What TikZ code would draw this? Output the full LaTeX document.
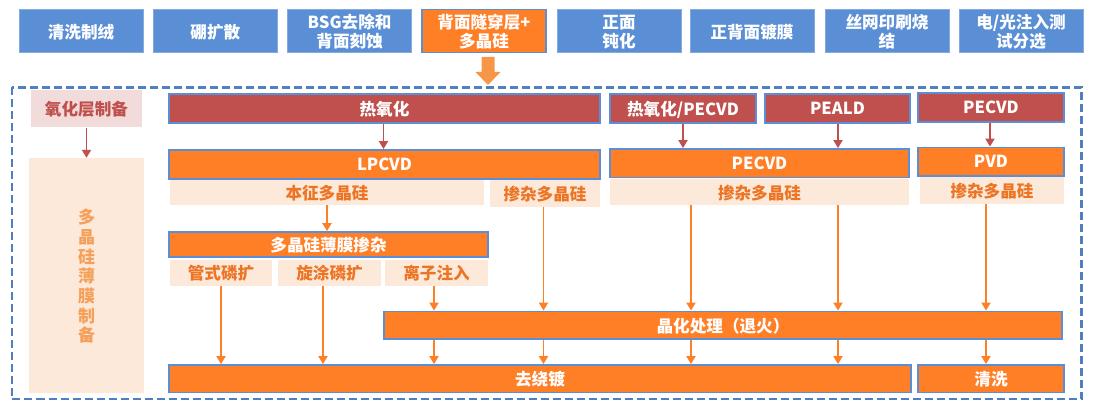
\documentclass[tikz,border=0pt]{standalone}
\usepackage{fontspec}
\setmainfont{Noto Sans CJK SC}
\usetikzlibrary{arrows.meta}
\definecolor{topblue}{HTML}{5A8FD5}
\definecolor{bordblue}{HTML}{5B8ED6}
\definecolor{dashblue}{HTML}{4F7FC0}
\definecolor{ored}{HTML}{C0504D}
\definecolor{oorange}{HTML}{FF7F27}
\definecolor{peach}{HTML}{FDE9D9}
\definecolor{pink}{HTML}{F2DCDB}
\definecolor{otext}{HTML}{EC7425}
\definecolor{vtext}{HTML}{F4A05A}
\definecolor{barrow}{HTML}{F79646}
\tikzset{
  lbl/.style={font=\bfseries\fontsize{16.6}{19}\selectfont, align=center, inner sep=0pt, text depth=0pt},
  topbox/.style={lbl, fill=topblue, draw=topblue!75!white, line width=0.8pt, text=white, minimum width=124pt, minimum height=43pt},
  topor/.style={topbox, fill=oorange, draw=bordblue, line width=1.2pt},
  redbox/.style={lbl, fill=ored, draw=bordblue, line width=1.8pt, text=white},
  orbox/.style={lbl, fill=oorange, draw=bordblue, line width=1.8pt, text=white},
  lightbox/.style={lbl, fill=peach, text=otext},
  pinkbox/.style={lbl, fill=pink, text=ored},
  redarr/.style={draw=ored, line width=1.9pt, -{Triangle[length=8pt,width=9pt]}},
  orarr/.style={draw=oorange, line width=1.9pt, -{Triangle[length=8pt,width=9pt]}},
}
\newcommand{\boxat}[6]{% style, name, x1,y1,x2,y2 + text follows
  \node[#1, minimum width=#5pt-#3pt, minimum height=#6pt-#4pt] (#2) at ({(#3+#5)/2},{(#4+#6)/2})}
\begin{document}
\begin{tikzpicture}[x=1pt,y=-1pt]
\useasboundingbox (0,0) rectangle (1093,401);
% top row
\node[topbox] (t1) at (81,31) {清洗制绒};
\node[topbox] (t2) at (215.3,31) {硼扩散};
\node[topbox] (t3) at (349.6,31) {BSG去除和\\背面刻蚀};
\node[topor]  (t4) at (484,31) {背面隧穿层+\\多晶硅};
\node[topbox] (t5) at (619,31) {正面\\钝化};
\node[topbox] (t6) at (752,31) {正背面镀膜};
\node[topbox] (t7) at (887,31) {丝网印刷烧\\结};
\node[topbox] (t8) at (1021,31) {电/光注入测\\试分选};
% block arrow
\fill[barrow] (481.5,57) -- (494.5,57) -- (494.5,72) -- (500.5,72) -- (488,85) -- (475.5,72) -- (481.5,72) -- cycle;
% dashed frame
\draw[dashblue, line width=2.2pt, dash pattern=on 8pt off 4pt] (12,87.5) rectangle (1081.5,399);
% left column
\boxat{pinkbox}{ox}{31}{90}{142}{127.5} {氧化层制备};
\boxat{lightbox}{pf}{29}{158}{144}{393} {};
\node[lbl, text=vtext, font=\bfseries\fontsize{17}{19.7}\selectfont] (pft) at (pf.center) {多\\晶\\硅\\薄\\膜\\制\\备};
\draw[redarr] (ox.south) -- (pf.north);
% red row
\boxat{redbox}{r1}{169}{94}{600}{123} {热氧化};
\boxat{redbox}{r2}{610}{94}{756}{123} {热氧化/PECVD};
\boxat{redbox}{r3}{765}{94}{910}{123} {PEALD};
\boxat{redbox}{r4}{918}{93}{1064}{122} {PECVD};
% orange row
\boxat{orbox}{lp}{169}{150}{600}{179} {LPCVD};
\boxat{orbox}{pe}{610}{149}{909}{177.5} {PECVD};
\boxat{orbox}{pv}{918}{147.5}{1064}{176} {PVD};
% light row
\boxat{lightbox}{bz}{170}{180.5}{484}{205} {本征多晶硅};
\boxat{lightbox}{d1}{490}{180.5}{600}{207} {掺杂多晶硅};
\boxat{lightbox}{d2}{610}{179}{909}{205} {掺杂多晶硅};
\boxat{lightbox}{d3}{920}{177.5}{1064}{204} {掺杂多晶硅};
% doping
\boxat{orbox}{dp}{169}{232}{488}{257} {多晶硅薄膜掺杂};
\boxat{lightbox}{g1}{170}{260}{272}{285.5} {管式磷扩};
\boxat{lightbox}{g2}{278}{260}{381}{285.5} {旋涂磷扩};
\boxat{lightbox}{g3}{385}{260}{488}{285.5} {离子注入};
% anneal, etch
\boxat{orbox}{an}{384}{311.5}{1062}{339} {晶化处理（退火）};
\boxat{orbox}{qr}{169}{365}{911}{392.5} {去绕镀};
\boxat{orbox}{qx}{918}{365}{1064}{392.5} {清洗};
% columns
\coordinate (xa) at (383.5,0);
\coordinate (xb) at (683,0);
\coordinate (xc) at (838,0);
\coordinate (xd) at (990,0);
\coordinate (xe) at (327,0);
\coordinate (xf) at (221,0);
\coordinate (xg) at (323,0);
\coordinate (xh) at (434,0);
\coordinate (xi) at (543.5,0);
\coordinate (xj) at (691,0);
\coordinate (xk) at (986,0);
% red arrows
\draw[redarr] (r1.south -| xa) -- (lp.north -| xa);
\draw[redarr] (r2.south -| xb) -- (pe.north -| xb);
\draw[redarr] (r3.south -| xc) -- (pe.north -| xc);
\draw[redarr] (r4.south -| xd) -- (pv.north -| xd);
% orange arrows
\draw[orarr] (bz.south -| xe) -- (dp.north -| xe);
\draw[orarr] (g1.south -| xf) -- (qr.north -| xf);
\draw[orarr] (g2.south -| xg) -- (qr.north -| xg);
\draw[orarr] (g3.south -| xh) -- (an.north -| xh);
\draw[orarr] (d1.south -| xi) -- (an.north -| xi);
\draw[orarr] (d2.south -| xj) -- (an.north -| xj);
\draw[orarr] (d2.south -| xc) -- (an.north -| xc);
\draw[orarr] (d3.south -| xk) -- (an.north -| xk);
\draw[orarr] (an.south -| xh) -- (qr.north -| xh);
\draw[orarr] (an.south -| xi) -- (qr.north -| xi);
\draw[orarr] (an.south -| xj) -- (qr.north -| xj);
\draw[orarr] (an.south -| xc) -- (qr.north -| xc);
\draw[orarr] (an.south -| xk) -- (qx.north -| xk);
\end{tikzpicture}
\end{document}
